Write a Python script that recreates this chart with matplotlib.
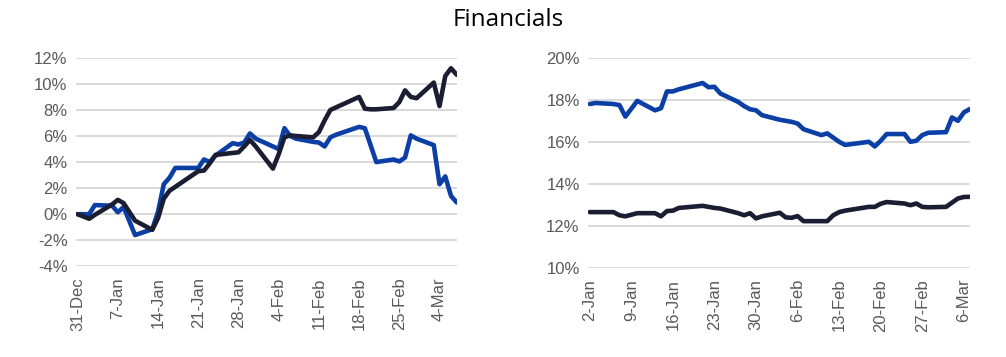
import pandas as pd
import matplotlib.pyplot as plt
import matplotlib.dates as mdates
from matplotlib.ticker import PercentFormatter

plt.rcParams['font.family'] = ['Liberation Sans', 'DejaVu Sans']
plt.rcParams['axes.unicode_minus'] = False

# trading days (market holidays left out)
holidays = ["2025-01-01", "2025-01-09", "2025-01-20", "2025-02-17"]
left_dates = pd.bdate_range("2024-12-31", "2025-03-07").drop(pd.to_datetime(holidays), errors="ignore")
right_dates = pd.bdate_range("2025-01-02", "2025-03-07").drop(pd.to_datetime(holidays), errors="ignore")

# left panel: cumulative return (%)
left_blue = [0.0, 0.0, 0.7, 0.65, 0.15, 0.55, -1.6, -1.15, 0.2, 2.3, 2.8, 3.55,
             3.55, 4.2, 4.0, 4.5, 5.45, 5.35, 5.5, 6.2, 5.8,
             5.2, 5.0, 6.6, 6.0, 5.8, 5.55, 5.5, 5.2, 5.9, 6.1,
             6.7, 6.6, 5.3, 4.0, 4.2, 4.05, 4.35, 6.05, 5.8,
             5.3, 2.3, 2.9, 1.4, 0.9]
left_black = [0.0, -0.35, -0.05, 0.75, 1.1, 0.85, -0.5, -1.2, -0.3, 1.2, 1.8, 2.1,
              3.3, 3.35, 3.9, 4.55, 4.7, 4.75, 5.2, 5.7, 5.2,
              3.5, 4.6, 5.9, 6.05, 6.0, 5.9, 6.3, 7.2, 8.0, 8.2,
              9.0, 8.1, 8.05, 8.05, 8.15, 8.6, 9.5, 9.0, 8.9,
              10.1, 8.3, 10.6, 11.2, 10.7]

# right panel (%)
right_blue = [17.8, 17.85, 17.8, 17.75, 17.2, 17.95, 17.5, 17.6, 18.4, 18.4, 18.5,
              18.8, 18.6, 18.62, 18.3, 17.9, 17.7, 17.55, 17.5, 17.27,
              17.05, 17.0, 16.95, 16.87, 16.6, 16.32, 16.4, 16.2, 16.0, 15.85,
              16.0, 15.78, 16.05, 16.37, 16.37, 16.0, 16.05, 16.32, 16.43,
              16.46, 17.16, 17.0, 17.4, 17.56]
right_black = [12.65, 12.65, 12.65, 12.5, 12.45, 12.6, 12.6, 12.45, 12.7, 12.72, 12.85,
               12.95, 12.9, 12.85, 12.82, 12.6, 12.5, 12.6, 12.35, 12.45,
               12.62, 12.4, 12.38, 12.46, 12.22, 12.22, 12.22, 12.5, 12.65, 12.72,
               12.9, 12.9, 13.05, 13.13, 13.06, 12.98, 13.06, 12.9, 12.88,
               12.9, 13.1, 13.3, 13.37, 13.38]

left_ticks = pd.date_range("2024-12-31", "2025-03-04", freq="7D")
right_ticks = pd.date_range("2025-01-02", "2025-03-06", freq="7D")

blue = "#0B3FA6"
black = "#1B1E33"
grey = "#595959"

fig = plt.figure(figsize=(10.06, 3.57), dpi=100)
ax1 = fig.add_axes([0.0755, 0.254, 0.379, 0.584])
ax2 = fig.add_axes([0.5845, 0.250, 0.380, 0.588])

panels = [
    (ax1, left_dates, left_blue, left_black, left_ticks, (-4, 12), range(-4, 13, 2)),
    (ax2, right_dates, right_blue, right_black, right_ticks, (10, 20), range(10, 21, 2)),
]
for ax, dates, b, k, ticks, ylim, yt in panels:
    ax.plot(dates, b, color=blue, lw=3.3, solid_joinstyle="round", solid_capstyle="round")
    ax.plot(dates, k, color=black, lw=3.3, solid_joinstyle="round", solid_capstyle="round")
    ax.set_ylim(*ylim)
    ax.set_yticks(list(yt))
    ax.yaxis.set_major_formatter(PercentFormatter(decimals=0))
    ax.set_xlim(dates[0] - pd.Timedelta(hours=7), dates[-1] + pd.Timedelta(hours=2))
    ax.set_xticks(ticks)
    ax.xaxis.set_major_formatter(mdates.DateFormatter("%-d-%b"))
    ax.grid(axis="y", color="#D9D9D9", lw=1.4)
    ax.set_axisbelow(True)
    for s in ax.spines.values():
        s.set_visible(False)
    ax.tick_params(length=0, labelsize=12, colors=grey, pad=6)
    ax.tick_params(axis="x", rotation=90, pad=8)

fig.text(0.505, 0.945, "Financials", ha="center", va="center", fontsize=17.5,
         family=["Open Sans", "DejaVu Sans"], color="black")

fig.savefig("out.png", dpi=100)
